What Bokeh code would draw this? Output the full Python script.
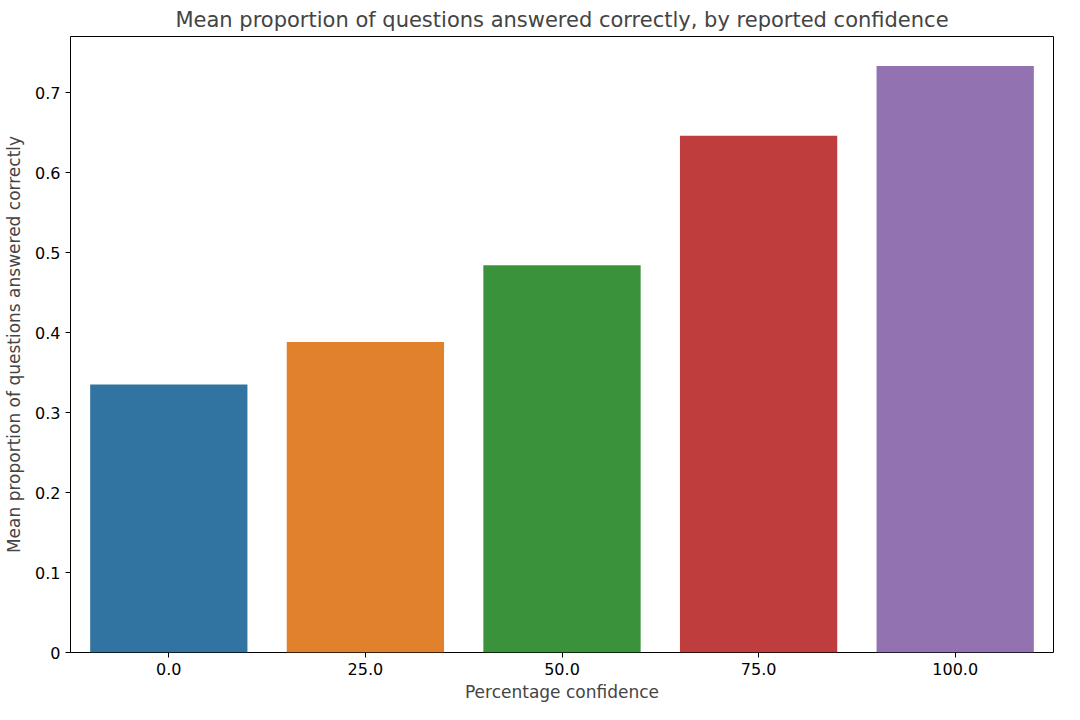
from bokeh.plotting import figure
from bokeh.models import Range1d, FactorRange, SingleIntervalTicker
from bokeh.embed import file_html
from bokeh.resources import INLINE

confidence = ["0.0", "25.0", "50.0", "75.0", "100.0"]
mean_correct = [0.335, 0.388, 0.484, 0.646, 0.733]
colors = ["#3274a1", "#e1812c", "#3a923a", "#c03d3e", "#9372b2"]

p = figure(
    width=1064, height=704,
    x_range=FactorRange(*confidence, range_padding=0),
    y_range=Range1d(0, 0.770),
    title="Mean proportion of questions answered correctly, by reported confidence",
    x_axis_label="Percentage confidence",
    y_axis_label="Mean proportion of questions answered correctly",
    output_backend="svg", toolbar_location=None,
    min_border_left=70, min_border_right=11, min_border_top=33, min_border_bottom=50,
)
p.vbar(x=confidence, top=mean_correct, width=0.8, fill_color=colors, line_color=None)

p.title.align = "center"
p.title.text_font = "DejaVu Sans"
p.title.text_font_size = "21px"
p.title.text_font_style = "normal"
for ax in (p.xaxis, p.yaxis):
    ax.axis_label_text_font = "DejaVu Sans"
    ax.axis_label_text_font_size = "17px"
    ax.axis_label_text_font_style = "normal"
    ax.major_label_text_font = "DejaVu Sans"
    ax.major_label_text_font_size = "16px"
    ax.major_label_text_color = "black"
    ax.minor_tick_line_color = None
    ax.major_tick_out = 5
    ax.major_tick_in = 0
    ax.axis_line_color = None
p.yaxis.ticker = SingleIntervalTicker(interval=0.1)
p.xaxis.axis_label_standoff = 4
p.yaxis.axis_label_standoff = 8
p.grid.grid_line_color = None
p.outline_line_color = "black"
p.outline_line_width = 1

open("out.html", "w").write(file_html(p, INLINE))
